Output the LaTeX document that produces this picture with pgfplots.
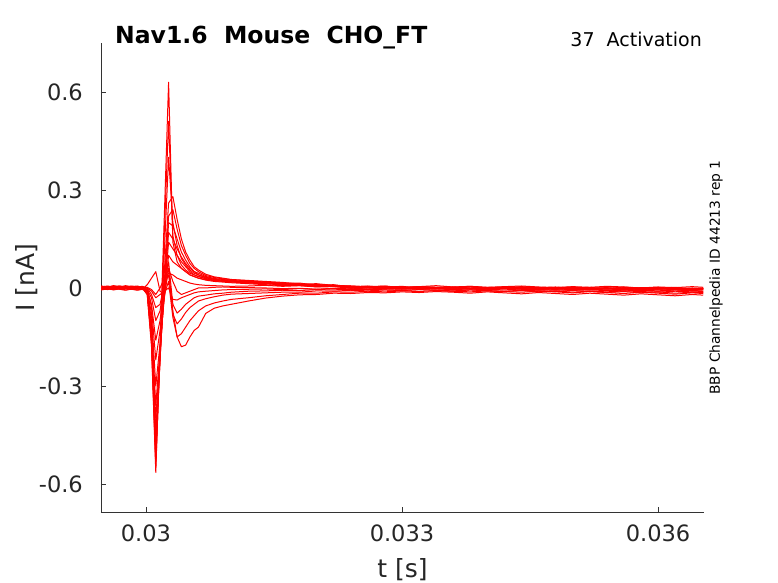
\documentclass[border=0pt]{standalone}
\usepackage{fontspec}
\setmainfont{DejaVu Sans}
\usepackage{pgfplots}
\usepackage{pgfplotstable}
\pgfplotsset{compat=1.18}

\pgfplotstableread{
t a b c d e f g h i j k l m n o p
0.029475 0.002 -0.002 0.004 0.000 -0.004 0.003 -0.001 0.001 -0.003 0.005 -0.006 0.002 -0.005 0.006 -0.002 0.003
0.02955 0.005 0.001 0.000 0.003 -0.001 0.006 0.002 -0.002 0.000 0.002 -0.003 0.004 -0.002 0.003 -0.005 0.000
0.02962 0.001 0.004 0.003 -0.001 0.002 0.002 0.005 0.001 -0.003 0.006 -0.005 0.000 -0.006 0.007 -0.001 0.002
0.02969 0.004 0.000 0.006 0.002 -0.002 0.005 0.001 0.004 0.001 0.003 -0.002 -0.002 -0.003 0.004 -0.004 0.006
0.02976 0.000 0.003 0.002 0.005 0.001 0.001 -0.002 0.002 -0.002 0.007 -0.006 0.001 0.000 0.002 -0.007 0.003
0.02983 0.003 -0.001 0.004 0.001 -0.003 0.004 0.002 -0.001 0.000 0.004 -0.004 0.005 -0.004 0.006 -0.003 0.001
0.02990 0.001 0.002 0.000 0.003 0.000 0.006 -0.001 0.002 -0.004 0.002 -0.007 0.001 -0.002 0.003 -0.006 0.004
0.02996 -0.002 0.000 0.002 -0.001 -0.002 0.001 0.000 -0.003 -0.002 0.004 -0.004 0.003 -0.005 0.005 -0.003 0.002
0.030015 -0.02 -0.02 -0.015 -0.015 -0.01 -0.01 -0.01 -0.005 -0.005 0.0 0.01 0.0 -0.005 -0.005 0.0 0.002
0.030065 -0.18 -0.17 -0.16 -0.15 -0.14 -0.13 -0.12 -0.10 -0.08 -0.06 0.03 -0.02 -0.03 -0.05 -0.01 -0.005
0.030115 -0.565 -0.55 -0.53 -0.50 -0.47 -0.44 -0.40 -0.36 -0.30 -0.22 0.05 -0.06 -0.10 -0.16 -0.03 -0.02
0.030165 -0.17 -0.19 -0.21 -0.22 -0.22 -0.21 -0.20 -0.19 -0.17 -0.13 -0.01 -0.05 -0.07 -0.10 -0.02 0.0
0.030215 0.22 0.17 0.11 0.05 0.02 0.0 -0.01 -0.02 -0.03 -0.03 -0.02 0.01 0.02 0.01 -0.01 0.03
0.030265 0.63 0.51 0.40 0.26 0.22 0.20 0.17 0.14 0.10 0.06 0.02 0.04 0.06 0.08 0.0 0.045
0.030315 0.14 0.16 0.20 0.28 0.24 0.19 0.15 0.12 0.08 0.02 -0.09 -0.07 -0.08 -0.05 -0.035 0.04
0.030365 0.08 0.10 0.13 0.21 0.18 0.15 0.12 0.10 0.07 -0.01 -0.15 -0.15 -0.11 -0.077 -0.037 0.03
0.030415 0.06 0.07 0.09 0.15 0.13 0.11 0.095 0.08 0.06 -0.02 -0.18 -0.14 -0.095 -0.065 -0.03 0.025
0.030465 0.05 0.055 0.07 0.11 0.10 0.085 0.075 0.065 0.05 -0.015 -0.175 -0.12 -0.075 -0.05 -0.025 0.02
0.030515 0.04 0.045 0.055 0.085 0.075 0.065 0.06 0.05 0.04 -0.01 -0.15 -0.10 -0.06 -0.04 -0.02 0.015
0.030565 0.035 0.04 0.045 0.065 0.06 0.05 0.05 0.04 0.035 -0.005 -0.13 -0.085 -0.05 -0.03 -0.015 0.012
0.030615 0.03 0.035 0.04 0.055 0.05 0.045 0.04 0.035 0.03 0.0 -0.12 -0.07 -0.04 -0.025 -0.012 0.01
0.03070 0.026 0.029 0.033 0.042 0.038 0.035 0.031 0.028 0.024 0.0 -0.078 -0.055 -0.033 -0.022 -0.01 0.008
0.03080 0.022 0.024 0.027 0.034 0.032 0.029 0.026 0.023 0.020 0.002 -0.062 -0.046 -0.027 -0.018 -0.008 0.007
0.03090 0.020 0.021 0.024 0.030 0.028 0.026 0.023 0.021 0.018 0.003 -0.055 -0.040 -0.022 -0.016 -0.006 0.006
0.03100 0.018 0.019 0.021 0.026 0.025 0.023 0.021 0.019 0.016 0.002 -0.050 -0.035 -0.019 -0.013 -0.005 0.005
0.03120 0.016 0.017 0.019 0.023 0.022 0.020 0.018 0.015 0.013 0.001 -0.040 -0.030 -0.017 -0.010 -0.004 0.006
0.03140 0.015 0.013 0.016 0.020 0.018 0.017 0.015 0.013 0.010 0.000 -0.031 -0.024 -0.015 -0.009 -0.003 0.008
0.03160 0.010 0.014 0.013 0.017 0.015 0.015 0.012 0.009 0.007 -0.002 -0.025 -0.020 -0.013 -0.007 -0.005 0.005
0.03180 0.011 0.008 0.013 0.012 0.015 0.010 0.011 0.009 0.007 -0.001 -0.021 -0.016 -0.013 -0.008 -0.002 0.007
0.03200 0.006 0.010 0.006 0.013 0.008 0.011 0.006 0.004 0.003 -0.004 -0.020 -0.016 -0.009 -0.005 -0.004 0.004
0.03220 0.008 0.004 0.008 0.008 0.010 0.006 0.007 0.006 0.004 -0.002 -0.016 -0.012 -0.010 -0.006 -0.001 0.006
0.03240 0.002 0.004 0.001 0.006 0.003 0.005 0.002 0.000 -0.001 -0.005 -0.017 -0.013 -0.007 -0.003 -0.003 0.006
0.03260 0.005 0.006 0.004 0.003 0.004 0.002 0.003 0.003 0.000 -0.003 -0.014 -0.010 -0.009 -0.005 0.000 0.003
0.03280 0.003 0.000 0.002 0.005 0.006 0.004 0.000 -0.001 -0.003 -0.006 -0.015 -0.012 -0.006 -0.002 -0.002 0.005
0.03300 -0.001 0.003 0.005 0.001 0.001 0.000 0.002 0.001 -0.001 -0.008 -0.012 -0.009 -0.008 -0.004 -0.004 0.002
0.03320 0.004 0.001 -0.001 0.004 0.003 0.003 -0.001 -0.002 -0.004 -0.005 -0.014 -0.011 -0.005 -0.001 -0.001 0.004
0.03340 0.002 -0.002 0.002 0.000 0.002 0.001 0.001 0.000 -0.002 -0.007 -0.011 -0.008 -0.007 -0.003 -0.003 0.007
0.03360 0.000 0.002 0.003 0.002 -0.001 0.002 0.000 -0.003 -0.005 -0.010 -0.013 -0.010 -0.009 -0.005 0.000 0.003
0.03380 0.003 0.004 -0.002 0.005 0.003 -0.002 -0.003 -0.001 -0.003 -0.006 -0.016 -0.012 -0.006 -0.002 -0.002 0.005
0.03400 -0.002 0.000 0.001 0.001 0.000 0.002 0.000 -0.004 -0.006 -0.009 -0.012 -0.009 -0.008 -0.004 -0.004 0.002
0.03420 0.001 -0.001 0.003 -0.001 0.002 0.000 -0.002 0.000 -0.002 -0.011 -0.015 -0.011 -0.010 -0.006 -0.001 0.004
0.03440 0.004 0.002 -0.001 0.003 -0.002 0.001 0.001 -0.002 -0.004 -0.008 -0.018 -0.013 -0.007 -0.003 -0.003 0.006
0.03460 0.000 -0.003 0.002 0.001 0.001 -0.003 -0.001 -0.005 -0.007 -0.012 -0.014 -0.010 -0.009 -0.005 -0.005 0.003
0.03480 -0.003 0.001 -0.002 -0.002 0.003 0.000 -0.004 -0.001 -0.005 -0.009 -0.017 -0.012 -0.011 -0.007 -0.002 0.001
0.03500 0.002 0.003 0.000 0.002 -0.001 0.002 -0.001 -0.003 -0.008 -0.013 -0.020 -0.015 -0.008 -0.004 -0.004 0.004
0.03520 0.000 -0.002 0.002 -0.001 0.000 -0.002 -0.003 -0.006 -0.004 -0.010 -0.016 -0.011 -0.010 -0.006 -0.001 0.002
0.03540 -0.002 0.000 -0.003 0.001 -0.003 -0.001 0.000 -0.002 -0.006 -0.014 -0.019 -0.014 -0.012 -0.008 -0.003 0.005
0.03560 0.003 -0.004 0.000 -0.003 0.001 -0.004 -0.002 -0.004 -0.009 -0.011 -0.022 -0.017 -0.009 -0.005 -0.006 0.003
0.03580 -0.001 0.001 -0.001 0.000 -0.002 0.000 -0.005 -0.007 -0.007 -0.015 -0.018 -0.013 -0.011 -0.007 -0.002 0.000
0.03600 0.001 -0.001 -0.004 0.002 -0.001 -0.003 -0.002 -0.003 -0.010 -0.012 -0.021 -0.016 -0.013 -0.009 -0.004 0.003
0.03620 -0.004 0.002 0.000 -0.002 -0.005 -0.001 -0.004 -0.005 -0.006 -0.016 -0.024 -0.019 -0.010 -0.006 -0.001 0.001
0.03640 0.000 -0.003 -0.002 -0.004 -0.002 -0.005 -0.006 -0.008 -0.009 -0.013 -0.020 -0.015 -0.012 -0.008 -0.003 0.004
0.03653 -0.002 0.000 -0.005 -0.001 -0.003 -0.003 -0.003 -0.006 -0.011 -0.015 -0.022 -0.017 -0.014 -0.010 -0.002 0.002
}\data

\begin{document}
\begin{tikzpicture}
\useasboundingbox (-101bp,-71bp) rectangle (677bp,512bp);
\begin{axis}[
  at={(0,0)}, anchor=south west,
  scale only axis, width=603bp, height=469bp,
  xmin=0.029473, xmax=0.036539,
  ymin=-0.686, ymax=0.75,
  clip=false,
  scaled x ticks=false, scaled y ticks=false,
  axis x line*=bottom, axis y line*=left,
  axis line style={-, black!80, line width=0.8bp},
  tick align=inside,
  major tick length=5bp,
  tick style={black!80, line width=0.8bp},
  xtick={0.03,0.033,0.036},
  xticklabels={0.03,0.033,0.036},
  ytick={-0.6,-0.3,0,0.3,0.6},
  yticklabels={-0.6,-0.3,0,0.3,0.6},
  ticklabel style={font=\fontsize{22.5bp}{27bp}\selectfont, text=black!85, inner sep=0pt},
  xticklabel style={anchor=north, yshift=-13bp},
  yticklabel style={anchor=east, xshift=-18bp},
  xlabel={t [s]},
  ylabel={I [nA]},
  label style={font=\fontsize{25bp}{30bp}\selectfont, text=black!85, inner sep=0pt},
  xlabel style={at={(axis description cs:0.5,-0.0981)}, anchor=north},
  ylabel style={at={(axis description cs:-0.104,0.5)}, anchor=south, rotate=0},
]
\pgfplotsinvokeforeach{a,b,c,d,e,f,g,h,i,j,k,l,m,n,o,p}{
  \addplot[red, line width=1bp, line join=round] table[x=t, y=#1] {\data};
}
\node[anchor=base west, inner sep=0pt, font=\fontsize{23.5bp}{28bp}\selectfont\bfseries]
  at (axis description cs:0.0232,1) {Nav1.6\ \ Mouse\ \ CHO\_FT};
\node[anchor=base east, inner sep=0pt, font=\fontsize{19bp}{23bp}\selectfont]
  at (axis description cs:0.9967,0.992) {37\ \ Activation};
\node[anchor=center, rotate=90, inner sep=0pt, font=\fontsize{13.8bp}{16bp}\selectfont]
  at (axis description cs:1.0199,0.5) {BBP Channelpedia ID 44213 rep 1};
\end{axis}
\end{tikzpicture}
\end{document}
